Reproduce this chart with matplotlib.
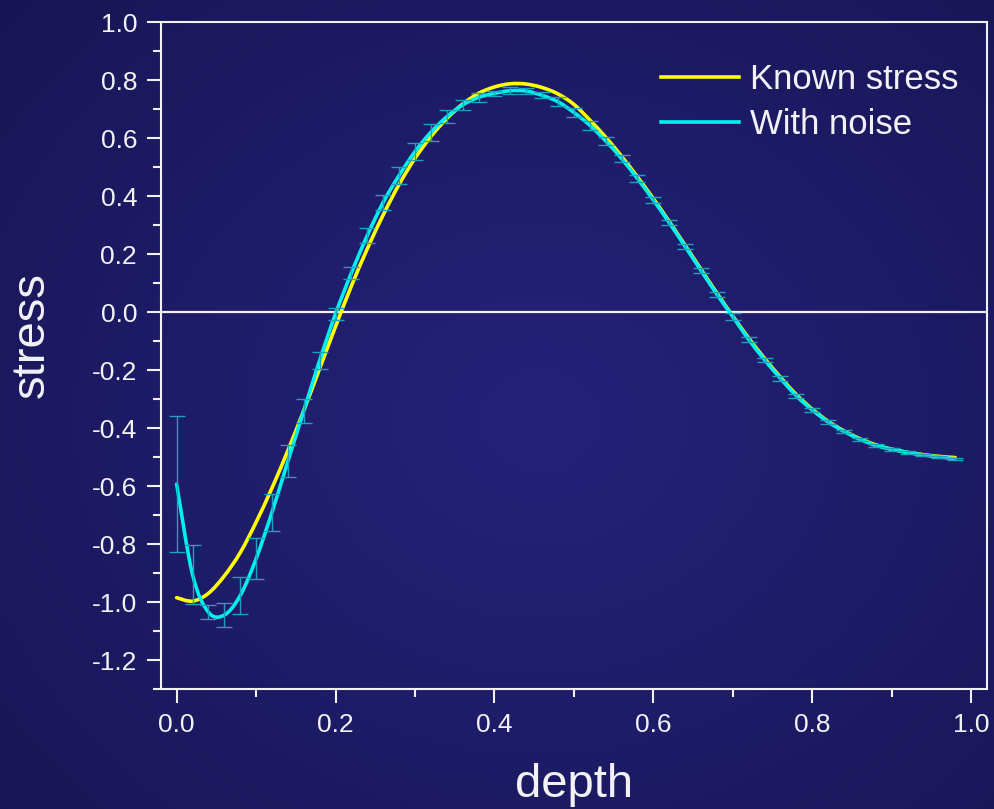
import numpy as np
import matplotlib
matplotlib.use('Agg')
import matplotlib.pyplot as plt
from matplotlib.path import Path
from matplotlib.patches import PathPatch
from matplotlib.lines import Line2D
from matplotlib.ticker import MultipleLocator

plt.rcParams['font.family'] = ['Liberation Sans', 'DejaVu Sans']

# sample depths (0 to 0.98, step 0.02)
depth = np.arange(50) * 0.02

known_stress = [-0.985, -0.997, -0.970, -0.910, -0.830, -0.725, -0.607, -0.478, -0.340, -0.195,
                -0.050, 0.090, 0.218, 0.335, 0.440, 0.530, 0.605, 0.667, 0.717, 0.754,
                0.776, 0.787, 0.786, 0.774, 0.752, 0.716, 0.662, 0.603, 0.537, 0.466,
                0.391, 0.312, 0.230, 0.147, 0.065, -0.014, -0.090, -0.160, -0.225, -0.285,
                -0.335, -0.377, -0.410, -0.437, -0.458, -0.473, -0.484, -0.492, -0.498, -0.502]

noisy_stress = [-0.593, -0.905, -1.035, -1.045, -0.978, -0.851, -0.691, -0.515, -0.341, -0.167,
                -0.006, 0.135, 0.264, 0.378, 0.471, 0.553, 0.620, 0.673, 0.714, 0.740,
                0.754, 0.763, 0.762, 0.747, 0.725, 0.688, 0.644, 0.590, 0.529, 0.460,
                0.386, 0.308, 0.226, 0.143, 0.061, -0.016, -0.095, -0.165, -0.229, -0.289,
                -0.338, -0.379, -0.412, -0.439, -0.460, -0.473, -0.484, -0.493, -0.500, -0.506]

noise_err = [0.235, 0.101, 0.024, 0.042, 0.063, 0.071, 0.063, 0.055, 0.040, 0.029,
             0.020, 0.021, 0.025, 0.026, 0.030, 0.029, 0.029, 0.022, 0.017, 0.016,
             0.009, 0.012, 0.010, 0.010, 0.015, 0.015, 0.016, 0.014, 0.013, 0.013,
             0.009, 0.009, 0.009, 0.010, 0.009, 0.011, 0.009, 0.008, 0.008, 0.007,
             0.007, 0.007, 0.006, 0.006, 0.006, 0.005, 0.005, 0.005, 0.004, 0.004]

YELLOW = '#ffff00'
CYAN = '#00f0f0'
ERR = '#1aa3ba'
FG = '#f2f2f6'


def spline_patch(x, y, color, lw):
    # Catmull-Rom curve through the points, as cubic Bezier segments
    pts = np.column_stack([x, y])
    n = len(pts)
    verts = [pts[0]]
    codes = [Path.MOVETO]
    for i in range(n - 1):
        p0 = pts[max(i - 1, 0)]
        p1 = pts[i]
        p2 = pts[i + 1]
        p3 = pts[min(i + 2, n - 1)]
        verts += [p1 + (p2 - p0) / 6, p2 - (p3 - p1) / 6, p2]
        codes += [Path.CURVE4] * 3
    return PathPatch(Path(verts, codes), fill=False, edgecolor=color, lw=lw,
                     capstyle='round', joinstyle='round')


fig = plt.figure(figsize=(9.94, 8.09), dpi=100)

# radial background
bg = fig.add_axes([0, 0, 1, 1], zorder=-1)
yy, xx = np.mgrid[0:809, 0:994]
r = np.sqrt(((xx - 540) / 700.0) ** 2 + ((yy - 420) / 600.0) ** 2)
t = np.clip(r, 0, 1)[..., None]
c_in = np.array([0x25, 0x22, 0x7c]) / 255.0
c_out = np.array([0x19, 0x16, 0x56]) / 255.0
bg.imshow(c_in * (1 - t) + c_out * t, aspect='auto', extent=[0, 1, 0, 1])
bg.axis('off')

ax = fig.add_axes([0.1617, 0.1483, 0.8313, 0.8245])
ax.set_facecolor('none')

ax.axhline(0, color=FG, lw=1.6, zorder=1)

ax.errorbar(depth, noisy_stress, yerr=noise_err, fmt='none', ecolor=ERR,
            elinewidth=1.0, capsize=6, capthick=1.0, zorder=2)
ax.add_patch(spline_patch(depth, known_stress, YELLOW, 2.6))
ax.add_patch(spline_patch(depth, noisy_stress, CYAN, 2.6))

ax.set_xlim(-0.02, 1.02)
ax.set_ylim(-1.3, 1.0)
ax.xaxis.set_minor_locator(MultipleLocator(0.1))
ax.yaxis.set_minor_locator(MultipleLocator(0.1))
xt = np.round(np.arange(0, 1.01, 0.2), 1)
yt = np.round(np.arange(-1.2, 1.01, 0.2), 1)
ax.set_xticks(xt)
ax.set_yticks(yt)
ax.set_xticklabels(['%.1f' % v for v in xt])
ax.set_yticklabels(['%.1f' % (v + 0.0) for v in yt])

for s in ax.spines.values():
    s.set_color(FG)
    s.set_linewidth(1.5)
ax.tick_params(which='major', direction='out', length=10, width=1.5, color=FG,
               labelcolor=FG, labelsize=19, pad=7)
ax.tick_params(which='minor', direction='out', length=6, width=1.5, color=FG)

fig.text(0.5775, 0.0148, 'depth', color=FG, fontsize=34, ha='center', va='baseline')
fig.text(0.032, 0.586, 'stress', color=FG, fontsize=34, ha='center', va='center',
         rotation=90)

handles = [Line2D([], [], color=YELLOW, lw=2.6), Line2D([], [], color=CYAN, lw=2.6)]
leg = ax.legend(handles, ['Known stress', 'With noise'], loc='upper right',
                bbox_to_anchor=(1.003, 0.985), frameon=False, fontsize=25,
                handlelength=2.25, handletextpad=0.3, labelspacing=0.35)
for txt in leg.get_texts():
    txt.set_color(FG)

fig.savefig('out.png', dpi=100)
